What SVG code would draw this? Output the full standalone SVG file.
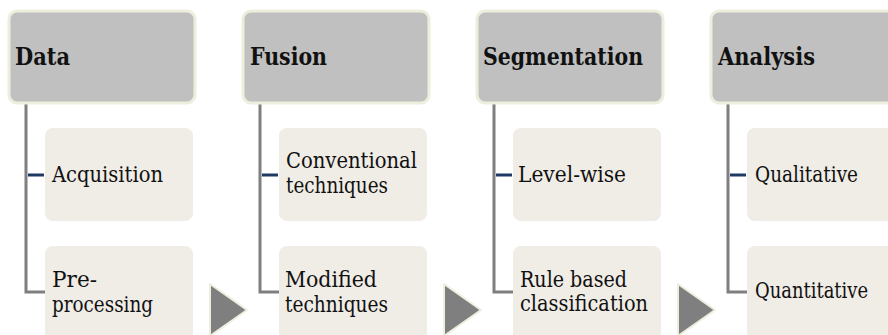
<svg xmlns="http://www.w3.org/2000/svg" width="888" height="335" viewBox="0 0 888 335">
<style>
.hdr{fill:#c0c0c0;stroke:#eeeedf;stroke-width:3}
.sub{fill:#f0ece6}
text{font-family:"DejaVu Serif","Liberation Serif",serif;fill:#111}
.ht{font-weight:bold;font-size:25px}
.st{font-size:22px}
.vl{fill:none;stroke:#7f7f7f;stroke-width:3}
.tk{stroke:#1f3864;stroke-width:3}
.arr{fill:#7f7f7f;stroke:#eeeedf;stroke-width:2;stroke-linejoin:round}
</style>
<rect width="888" height="335" fill="#fff"/>
<g id="connectors">
<path class="vl" d="M26,104 V292 H45"/>
<line class="tk" x1="28" y1="175" x2="44" y2="175"/>
<path class="vl" d="M260,104 V292 H279"/>
<line class="tk" x1="262" y1="175" x2="278" y2="175"/>
<path class="vl" d="M494,104 V292 H513"/>
<line class="tk" x1="496" y1="175" x2="512" y2="175"/>
<path class="vl" d="M728,104 V292 H747"/>
<line class="tk" x1="730" y1="175" x2="746" y2="175"/>
<polygon class="arr" points="210,284 247,310 210,336"/>
<polygon class="arr" points="444,284 481,310 444,336"/>
<polygon class="arr" points="678,284 715,310 678,336"/>
</g>
<g id="data">
<rect class="hdr" x="9" y="11" width="186" height="92" rx="8"/>
<text class="ht" x="15" y="65" textLength="55" lengthAdjust="spacingAndGlyphs">Data</text>
</g>
<g id="acquisition">
<rect class="sub" x="45" y="128" width="148" height="93" rx="8"/>
<text class="st" x="52" y="182" textLength="111" lengthAdjust="spacingAndGlyphs">Acquisition</text>
</g>
<g id="preprocessing">
<rect class="sub" x="45" y="246" width="148" height="100" rx="8"/>
<text class="st" x="52" y="287" textLength="45" lengthAdjust="spacingAndGlyphs">Pre-</text>
<text class="st" x="52" y="312" textLength="101" lengthAdjust="spacingAndGlyphs">processing</text>
</g>
<g id="fusion">
<rect class="hdr" x="243" y="11" width="186" height="92" rx="8"/>
<text class="ht" x="250" y="65" textLength="77" lengthAdjust="spacingAndGlyphs">Fusion</text>
</g>
<g id="conventional">
<rect class="sub" x="279" y="128" width="148" height="93" rx="8"/>
<text class="st" x="286" y="168" textLength="131" lengthAdjust="spacingAndGlyphs">Conventional</text>
<text class="st" x="286" y="193" textLength="102" lengthAdjust="spacingAndGlyphs">techniques</text>
</g>
<g id="modified">
<rect class="sub" x="279" y="246" width="148" height="100" rx="8"/>
<text class="st" x="285" y="287" textLength="92" lengthAdjust="spacingAndGlyphs">Modified</text>
<text class="st" x="285" y="312" textLength="103" lengthAdjust="spacingAndGlyphs">techniques</text>
</g>
<g id="segmentation">
<rect class="hdr" x="477" y="11" width="186" height="92" rx="8"/>
<text class="ht" x="483" y="65" textLength="160" lengthAdjust="spacingAndGlyphs">Segmentation</text>
</g>
<g id="levelwise">
<rect class="sub" x="513" y="128" width="148" height="93" rx="8"/>
<text class="st" x="518" y="182" textLength="108" lengthAdjust="spacingAndGlyphs">Level-wise</text>
</g>
<g id="rulebased">
<rect class="sub" x="513" y="246" width="148" height="100" rx="8"/>
<text class="st" x="520" y="287" textLength="107" lengthAdjust="spacingAndGlyphs">Rule based</text>
<text class="st" x="520" y="311" textLength="128" lengthAdjust="spacingAndGlyphs">classification</text>
</g>
<g id="analysis">
<rect class="hdr" x="711" y="11" width="200" height="92" rx="8"/>
<text class="ht" x="718" y="65" textLength="97" lengthAdjust="spacingAndGlyphs">Analysis</text>
</g>
<g id="qualitative">
<rect class="sub" x="747" y="128" width="160" height="93" rx="8"/>
<text class="st" x="755" y="182" textLength="103" lengthAdjust="spacingAndGlyphs">Qualitative</text>
</g>
<g id="quantitative">
<rect class="sub" x="747" y="246" width="160" height="100" rx="8"/>
<text class="st" x="755" y="298" textLength="113" lengthAdjust="spacingAndGlyphs">Quantitative</text>
</g>
</svg>
